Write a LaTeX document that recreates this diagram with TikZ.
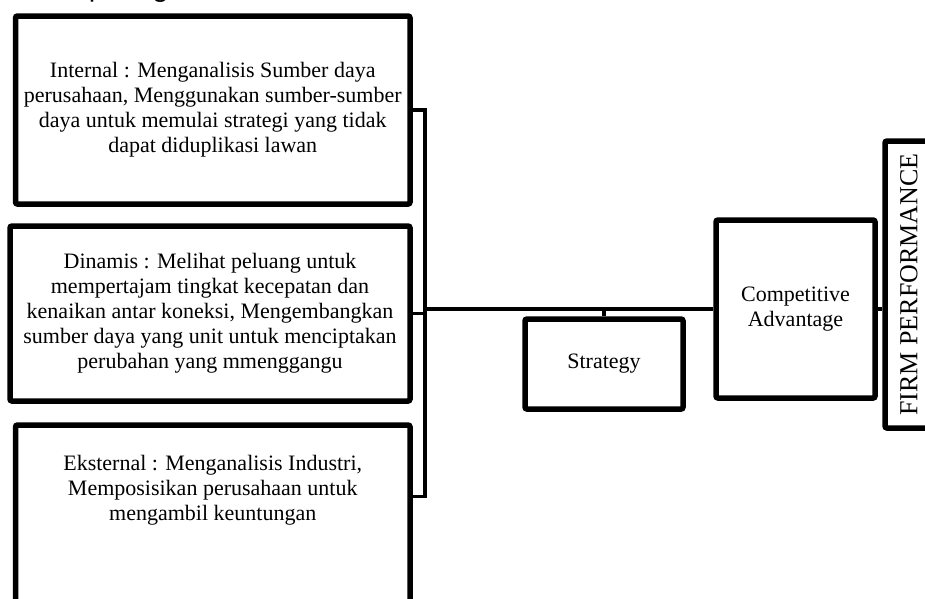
\documentclass[tikz,border=0pt]{standalone}
\usepackage{fontspec}
\setmainfont{Liberation Serif}
\newfontfamily\pagefont{Carlito}
\usetikzlibrary{positioning, shadows}

\begin{document}
\begin{tikzpicture}[x=1pt, y=-1pt,
  box/.style={draw=black, fill=white, line width=5.5pt, rounded corners=2pt,
    align=center, inner sep=0pt, font=\fontsize{22}{25}\selectfont,
    drop shadow={shadow xshift=2pt, shadow yshift=-2.5pt, opacity=0.2}},
  boxtext/.style={align=center, inner sep=0pt, font=\fontsize{22}{25}\selectfont},
  link/.style={draw=black, line width=3.5pt}]
  \useasboundingbox (0,0) rectangle (925,598);
  % line of running text cut off by the top edge
  \node[anchor=base east, inner sep=0pt, font=\pagefont\fontsize{29}{32}\selectfont] (caption)
    at (272,-3) {diperlihatkan pada gambar 1.};
  % three sources of the resource view
  \node[box, minimum width=394.5pt, minimum height=188pt] (internal) at (212.75,110)
    {Internal : Menganalisis Sumber daya\\perusahaan, Menggunakan sumber-sumber\\daya untuk memulai strategi yang tidak\\dapat diduplikasi lawan};
  \node[box, minimum width=400pt, minimum height=175pt] (dinamis) at (210,313.5)
    {Dinamis : Melihat peluang untuk\\mempertajam tingkat kecepatan dan\\kenaikan antar koneksi, Mengembangkan\\sumber daya yang unit untuk menciptakan\\perubahan yang mmenggangu};
  \node[box, minimum width=394.5pt, minimum height=200pt] (eksternal) at (212.75,525) {};
  \node[boxtext] (eksternaltext) at (212.75,490)
    {Eksternal : Menganalisis Industri,\\Memposisikan perusahaan untuk\\mengambil keuntungan};
  % right hand chain
  \node[box, minimum width=158pt, minimum height=90pt] (strategy) at (604,364) {Strategy};
  \node[box, minimum width=159pt, minimum height=178pt] (advantage) at (795.5,309)
    {Competitive\\Advantage};
  \node[box, rotate=90, minimum width=287pt, minimum height=48pt,
        font=\fontsize{26}{28}\selectfont] (performance) at (909,284.5) {FIRM PERFORMANCE};
  % bracket and connectors
  \coordinate (bus) at (425,309);
  \coordinate (eksout) at ([yshift=-74pt]eksternal.north east);
  \draw[link] (internal.east) -- (internal.east -| bus) -- (eksout -| bus) -- (eksout);
  \draw[link] (dinamis.east) -- (dinamis.east -| bus);
  \draw[link] (bus) -- (advantage.west);
  \draw[link] (strategy.north) -- (strategy.north |- bus);
  \draw[link] (advantage.east) -- (advantage.east -| performance.north);
\end{tikzpicture}
\end{document}
